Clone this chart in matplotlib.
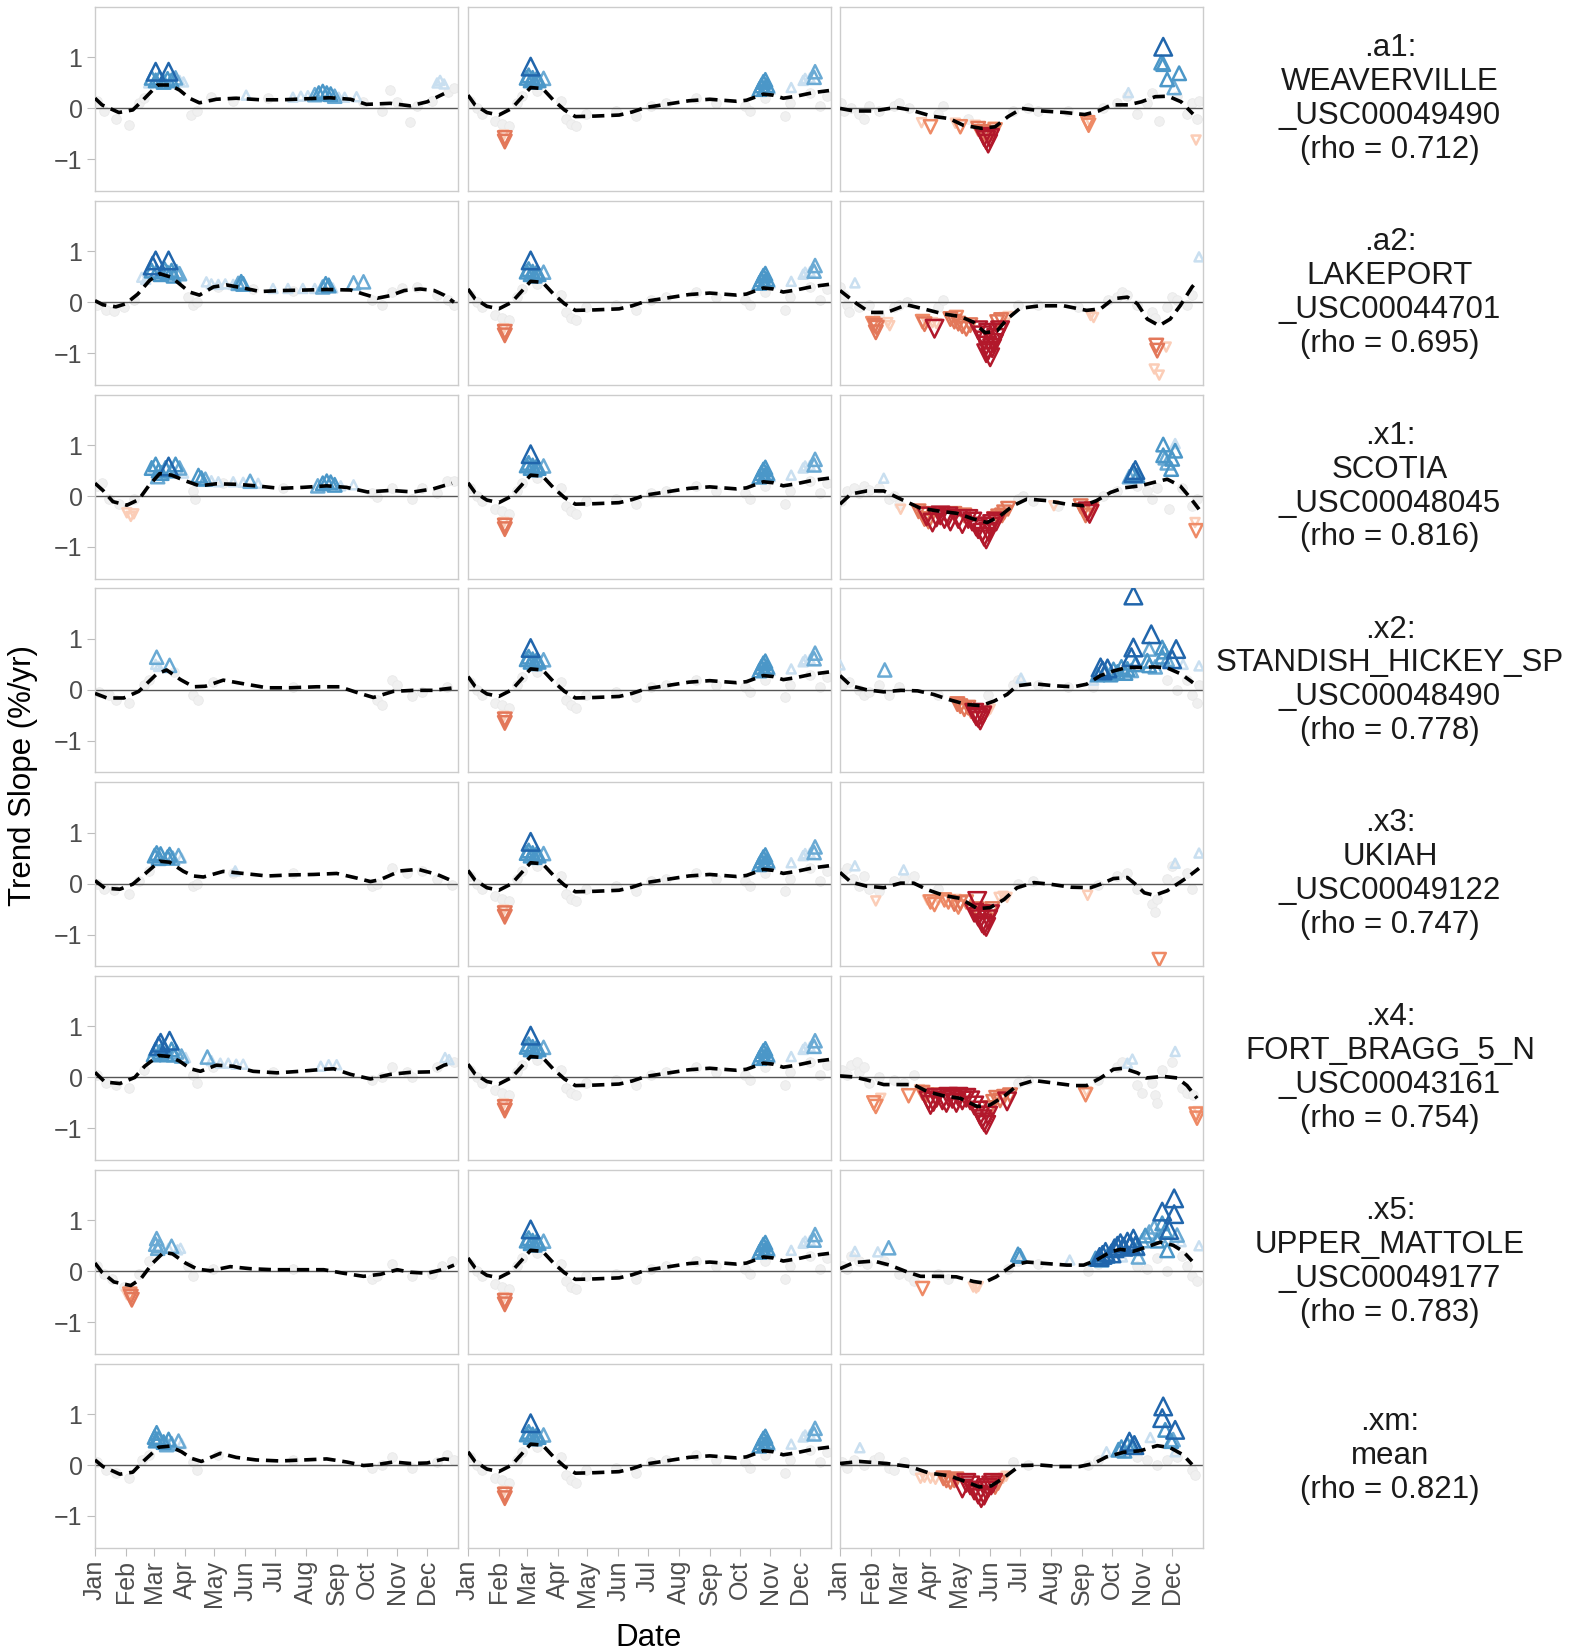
import matplotlib
matplotlib.use("Agg")
import matplotlib.pyplot as plt

plt.rcParams['font.family'] = ['Liberation Sans', 'DejaVu Sans']

MONTH_DAYS = [1, 32, 60, 91, 121, 152, 182, 213, 244, 274, 305, 335]
MONTH_LABELS = ['Jan', 'Feb', 'Mar', 'Apr', 'May', 'Jun', 'Jul', 'Aug', 'Sep', 'Oct', 'Nov', 'Dec']
Y_TICKS = [-1, 0, 1]

STATION_LABELS = [
    '.a1:\nWEAVERVILLE\n_USC00049490\n(rho = 0.712)',
    '.a2:\nLAKEPORT\n_USC00044701\n(rho = 0.695)',
    '.x1:\nSCOTIA\n_USC00048045\n(rho = 0.816)',
    '.x2:\nSTANDISH_HICKEY_SP\n_USC00048490\n(rho = 0.778)',
    '.x3:\nUKIAH\n_USC00049122\n(rho = 0.747)',
    '.x4:\nFORT_BRAGG_5_N\n_USC00043161\n(rho = 0.754)',
    '.x5:\nUPPER_MATTOLE\n_USC00049177\n(rho = 0.783)',
    '.xm:\nmean\n(rho = 0.821)',
]

# ---- column 1: smoothed trend (day, slope) per station ----
TREND_C1 = [
    [(1, .2), (8, .07), (25, -.08), (39, -.03), (49, .16), (64, .46), (76, .46), (86, .36), (96, .2), (106, .11),
     (123, .18), (143, .2), (167, .17), (190, .17), (214, .19), (237, .21), (258, .18), (274, .08), (298, .1),
     (318, .05), (335, .13), (352, .29)],
    [(1, .03), (9, -.05), (22, -.09), (32, -.03), (44, .16), (56, .43), (66, .56), (78, .49), (86, .36), (96, .2),
     (106, .14), (120, .3), (133, .34), (150, .28), (167, .21), (190, .23), (214, .24), (234, .25), (258, .24),
     (271, .16), (285, .08), (298, .13), (312, .23), (328, .26), (342, .23), (352, .14), (362, 0)],
    [(1, .25), (9, .11), (19, -.11), (33, -.18), (45, -.07), (55, .2), (66, .44), (78, .41), (93, .29), (106, .2),
     (123, .24), (143, .23), (163, .2), (187, .15), (210, .17), (234, .2), (254, .17), (275, .08), (298, .11),
     (321, .08), (341, .14), (360, .25)],
    [(1, -.07), (13, -.16), (30, -.16), (45, -.03), (63, .31), (73, .39), (87, .2), (100, .06), (112, .07),
     (130, .19), (150, .12), (174, .04), (197, .04), (224, .06), (247, .06), (264, -.05), (281, -.15),
     (301, -.03), (321, -.01), (341, -.01), (362, .04)],
    [(1, .06), (11, -.09), (26, -.11), (39, -.01), (50, .17), (66, .44), (76, .42), (90, .24), (100, .15),
     (110, .13), (130, .24), (150, .2), (174, .15), (197, .17), (221, .18), (244, .2), (264, .11), (278, .04),
     (288, .08), (308, .25), (326, .28), (345, .18), (357, .08)],
    [(1, .1), (11, -.09), (26, -.12), (41, 0), (51, .22), (65, .43), (76, .41), (86, .32), (97, .17), (107, .12),
     (123, .24), (140, .22), (160, .12), (184, .09), (207, .12), (231, .16), (241, .17), (258, .06), (278, -.03),
     (298, .06), (318, .1), (339, .11), (352, .24), (362, .29)],
    [(1, .16), (8, -.02), (20, -.21), (37, -.28), (47, -.15), (59, .16), (70, .37), (79, .34), (92, .16),
     (104, .04), (117, .01), (137, .09), (157, .05), (180, .03), (204, .03), (231, .03), (251, -.04), (271, -.1),
     (288, -.06), (305, .03), (318, -.02), (335, -.04), (352, .04), (362, .12)],
    [(1, .1), (9, -.03), (26, -.18), (39, -.14), (50, .08), (65, .35), (76, .37), (88, .26), (98, .13), (108, .07),
     (127, .23), (143, .15), (163, .1), (187, .08), (211, .1), (234, .12), (254, .06), (271, -.01), (285, .01),
     (301, .06), (318, .03), (335, .04), (352, .12), (362, .1)],
]

# significant slopes (day, slope, significance class 1..4)
SIG_C1 = [
    [(62, .72, 4), (75, .72, 4), (58, .6, 3), (62, .55, 3), (66, .6, 3), (70, .52, 3), (74, .58, 3), (78, .55, 3),
     (82, .6, 2), (86, .55, 1), (90, .52, 1), (55, .5, 1), (153, .26, 1), (200, .22, 1), (208, .24, 1),
     (215, .25, 1), (222, .27, 2), (226, .3, 3), (230, .33, 3), (234, .3, 3), (238, .28, 3), (242, .24, 2),
     (246, .22, 1), (252, .22, 1), (264, .23, 1), (345, .5, 1), (348, .55, 1), (352, .48, 1)],
    [(62, .82, 4), (75, .82, 4), (59, .72, 4), (58, .62, 3), (63, .6, 3), (67, .55, 3), (71, .65, 3), (74, .58, 3),
     (78, .62, 3), (80, .52, 3), (83, .6, 2), (86, .56, 2), (48, .49, 1), (52, .45, 1), (113, .4, 1), (118, .36, 1),
     (125, .35, 1), (132, .36, 1), (140, .35, 1), (145, .37, 2), (148, .4, 3), (150, .36, 3), (180, .27, 1),
     (195, .27, 1), (210, .27, 1), (222, .27, 1), (230, .3, 2), (233, .36, 3), (236, .33, 3), (240, .28, 1),
     (261, .38, 2), (271, .4, 2)],
    [(58, .55, 3), (62, .62, 3), (65, .5, 3), (68, .45, 3), (72, .55, 3), (75, .58, 4), (78, .5, 3), (82, .62, 3),
     (86, .55, 2), (90, .45, 1), (64, .38, 2), (105, .4, 3), (108, .35, 3), (112, .33, 2), (118, .3, 1),
     (125, .28, 1), (140, .28, 1), (150, .27, 1), (157, .29, 2), (165, .25, 1), (225, .2, 2), (230, .25, 3),
     (234, .29, 3), (238, .27, 3), (242, .22, 3), (248, .2, 1), (261, .22, 1), (33, -.33, 1), (37, -.4, 1),
     (40, -.35, 1)],
    [(63, .64, 2), (62, .5, 1), (65, .46, 1), (76, .48, 2)],
    [(61, .55, 3), (63, .6, 3), (65, .5, 3), (67, .58, 3), (74, .52, 3), (76, .57, 3), (79, .5, 2), (85, .55, 2),
     (88, .5, 1), (142, .25, 1)],
    [(67, .68, 4), (65, .62, 4), (76, .72, 4), (60, .45, 3), (62, .55, 3), (66, .5, 3), (70, .6, 3), (73, .45, 3),
     (78, .55, 3), (80, .45, 3), (83, .5, 2), (88, .42, 2), (92, .39, 1), (114, .4, 2), (118, .33, 1),
     (127, .28, 1), (135, .28, 1), (143, .26, 1), (150, .26, 1), (228, .22, 1), (236, .25, 1), (244, .25, 1),
     (353, .39, 1), (357, .35, 1)],
    [(63, .64, 2), (62, .53, 2), (64, .45, 2), (66, .5, 2), (78, .49, 2), (75, .45, 1), (87, .45, 1), (84, .42, 1),
     (33, -.46, 1), (37, -.5, 3), (38, -.56, 3), (36, -.45, 2)],
    [(61, .55, 3), (63, .63, 3), (65, .52, 3), (62, .48, 3), (70, .45, 3), (75, .5, 3), (73, .4, 2), (78, .42, 2),
     (85, .47, 2), (88, .42, 1), (72, .37, 1)],
]

GRAY_C1 = [
    [(3, .15), (10, -.05), (22, -.2), (35, -.33), (45, .1), (50, .2), (98, -.12), (104, -.05), (118, .22),
     (140, .15), (175, .2), (270, .12), (290, -.05), (298, .36), (305, .12), (318, -.26), (325, .05), (340, .15),
     (356, .33), (362, .4)],
    [(3, -.05), (12, -.15), (20, -.18), (30, -.1), (40, .05), (95, .1), (100, -.05), (104, 0), (125, .3),
     (160, .25), (200, .22), (280, .05), (290, -.05), (300, .2), (310, .28), (325, .3), (345, .15), (356, .05),
     (362, -.05)],
    [(3, .2), (8, .25), (15, -.05), (25, -.15), (40, -.05), (100, .1), (102, -.05), (130, .25), (190, .15),
     (280, .05), (285, -.02), (300, .15), (320, -.05), (330, .15), (345, .05), (355, .3), (362, .3)],
    [(5, -.05), (15, -.1), (22, -.2), (35, -.25), (50, .1), (55, .2), (80, .35), (100, -.1), (105, -.2),
     (120, .15), (200, .05), (285, -.2), (290, -.3), (300, .2), (305, .1), (320, -.12), (330, -.05), (355, .05)],
    [(3, 0), (10, -.1), (20, -.12), (35, -.2), (45, .05), (55, .25), (100, -.05), (104, 0), (140, .2), (200, .2),
     (280, -.05), (285, 0), (300, .3), (315, .2), (330, .25), (345, .1), (360, -.02)],
    [(3, .05), (12, -.1), (22, -.15), (35, -.2), (50, .15), (100, .05), (104, -.1), (120, .2), (180, .1),
     (280, -.05), (290, 0), (300, .2), (315, .1), (320, 0), (345, .2), (362, .3)],
    [(3, .1), (10, -.05), (18, -.15), (30, -.3), (45, -.05), (55, .2), (95, .1), (100, -.1), (120, .05),
     (200, .05), (280, -.15), (285, -.1), (300, .15), (320, -.1), (340, -.05), (350, .1), (360, .2)],
    [(3, .05), (12, -.1), (22, -.15), (35, -.25), (48, .1), (55, .2), (100, .05), (104, -.1), (125, .2),
     (200, .1), (280, -.05), (290, 0), (300, .15), (320, -.05), (345, .05), (355, .2), (362, .1)],
]

# ---- column 2: identical for every station ----
TREND_C2 = [(1, .26), (8, .07), (20, -.08), (32, -.13), (45, 0), (64, .41), (76, .39), (87, .16), (98, -.03),
            (109, -.16), (129, -.15), (153, -.13), (166, -.07), (180, .02), (200, .08), (223, .15), (244, .18),
            (271, .14), (281, .16), (298, .28), (308, .26), (318, .2), (331, .24), (348, .31), (364, .35)]
SIG_C2 = [(64, .82, 4), (60, .6, 3), (62, .65, 3), (64, .55, 3), (66, .6, 3), (68, .52, 3), (70, .58, 3),
          (72, .55, 3), (77, .59, 2), (74, .52, 1), (38, -.65, 3), (38, -.58, 3), (37, -.52, 1), (294, .38, 3),
          (296, .45, 3), (298, .52, 3), (300, .56, 3), (302, .45, 3), (299, .4, 3), (303, .42, 1), (305, .38, 1),
          (326, .41, 1), (338, .55, 1), (340, .59, 1), (350, .72, 2), (349, .61, 2), (345, .6, 1)]
GRAY_C2 = [(3, .15), (10, 0), (15, -.1), (28, -.25), (35, -.3), (42, -.35), (50, .1), (55, .25), (70, .35),
           (95, .15), (100, -.2), (105, -.3), (110, -.35), (120, -.1), (150, -.05), (170, -.15), (185, .05),
           (200, .1), (230, .2), (250, .1), (280, .05), (285, -.05), (300, .2), (320, -.15), (325, .1), (345, .3),
           (355, .05), (362, .25)]

# ---- column 3 ----
TREND_C3 = [
    [(1, 0), (15, -.05), (35, -.05), (57, .02), (72, -.03), (93, -.15), (111, -.2), (125, -.33), (143, -.39),
     (157, -.36), (170, -.16), (184, 0), (204, -.05), (227, -.08), (247, -.12), (261, -.05), (274, .07),
     (291, .07), (304, .13), (318, .23), (331, .24), (344, .13), (356, -.11)],
    [(1, .23), (18, -.03), (31, -.2), (48, -.2), (68, -.05), (85, -.13), (105, -.23), (122, -.28), (135, -.39),
     (147, -.6), (159, -.56), (169, -.33), (182, -.12), (202, -.07), (226, -.07), (249, -.16), (263, -.13),
     (276, .07), (290, .1), (300, -.03), (310, -.33), (322, -.46), (333, -.33), (343, -.07), (355, .3), (360, .41)],
    [(1, -.16), (12, .04), (28, .1), (45, .1), (62, -.06), (82, -.24), (102, -.3), (119, -.34), (135, -.45),
     (149, -.52), (162, -.39), (175, -.19), (189, -.06), (209, -.09), (229, -.16), (246, -.19), (259, -.09),
     (273, .07), (286, .16), (303, .2), (317, .27), (330, .33), (343, .2), (353, -.03), (362, -.26)],
    [(1, .28), (12, .08), (28, 0), (45, -.04), (62, -.01), (79, -.02), (95, -.09), (112, -.2), (129, -.29),
     (143, -.31), (156, -.22), (169, -.09), (179, .08), (196, .12), (216, .08), (236, .06), (249, .11),
     (263, .28), (276, .37), (290, .44), (303, .44), (317, .45), (330, .43), (344, .31), (356, .14)],
    [(1, .22), (12, .03), (28, -.05), (45, -.08), (62, .01), (75, .01), (89, -.12), (105, -.23), (122, -.29),
     (139, -.49), (152, -.47), (166, -.31), (179, -.08), (196, .02), (212, -.01), (233, -.07), (253, -.08),
     (263, -.01), (276, .1), (290, .12), (298, -.01), (307, -.18), (317, -.23), (330, -.14), (340, -.01),
     (350, .12), (362, .3)],
    [(1, .03), (15, .01), (28, -.05), (45, -.14), (62, -.14), (75, -.14), (89, -.28), (105, -.36), (122, -.41),
     (139, -.57), (152, -.54), (166, -.37), (179, -.16), (196, -.06), (216, -.11), (236, -.16), (249, -.16),
     (263, -.01), (276, .16), (286, .18), (300, .09), (309, -.01), (326, .02), (340, -.01), (350, -.16),
     (360, -.41)],
    [(1, .05), (15, .17), (35, .2), (51, .12), (68, -.01), (82, -.1), (102, -.1), (118, -.11), (135, -.2),
     (145, -.23), (158, -.11), (175, .12), (189, .18), (209, .15), (229, .12), (246, .12), (259, .22), (273, .38),
     (283, .43), (296, .39), (310, .48), (323, .57), (336, .51), (346, .39), (355, .2)],
    [(1, .03), (21, .07), (48, .03), (71, -.03), (91, -.16), (111, -.21), (128, -.33), (141, -.43), (153, -.41),
     (165, -.26), (182, -.01), (202, 0), (222, -.03), (242, -.03), (256, .03), (269, .16), (286, .25), (303, .28),
     (320, .38), (333, .34), (346, .2), (355, .01)],
]

SIG_C3 = [
    [(326, 1.21, 4), (326, .87, 3), (324, .9, 3), (330, .57, 3), (342, .69, 3), (337, .41, 2), (291, .31, 1),
     (92, -.36, 2), (83, -.28, 1), (122, -.36, 2), (117, -.29, 1), (137, -.33, 1), (140, -.4, 3), (143, -.46, 3),
     (146, -.5, 3), (150, -.69, 4), (148, -.62, 4), (146, -.56, 4), (152, -.58, 4), (150, -.52, 3),
     (154, -.49, 3), (157, -.42, 2), (155, -.36, 1), (251, -.33, 2), (250, -.28, 2), (252, -.25, 1),
     (359, -.62, 1)],
    [(16, .38, 1), (362, .89, 1), (34, -.42, 2), (36, -.46, 3), (37, -.59, 3), (38, -.5, 3), (51, -.46, 1),
     (49, -.4, 1), (84, -.38, 2), (86, -.43, 3), (88, -.4, 1), (96, -.52, 4), (94, -.4, 1), (98, -.42, 1),
     (112, -.33, 3), (116, -.38, 3), (120, -.42, 3), (124, -.47, 3), (128, -.52, 3), (132, -.45, 3),
     (118, -.3, 2), (140, -.55, 4), (144, -.65, 4), (146, -.75, 4), (148, -.85, 4), (150, -.95, 4),
     (152, -1.08, 4), (148, -1.0, 4), (154, -.9, 4), (156, -.8, 4), (158, -.7, 4), (160, -.6, 4), (162, -.55, 4),
     (150, -.6, 4), (159, -.39, 3), (163, -.35, 3), (166, -.3, 1), (170, -.28, 1), (253, -.26, 1),
     (256, -.3, 1), (320, -.95, 3), (319, -.85, 3), (329, -.88, 1), (317, -1.31, 1), (322, -1.43, 1)],
    [(45, .35, 1), (298, .51, 4), (296, .45, 4), (295, .43, 3), (292, .38, 2), (300, .4, 3), (326, 1.01, 3),
     (338, 1.03, 1), (338, .89, 3), (326, .8, 3), (328, .75, 2), (335, .73, 3), (334, .53, 3), (330, .65, 2),
     (62, -.26, 1), (80, -.3, 3), (84, -.35, 3), (86, -.45, 3), (88, -.4, 4), (90, -.5, 3), (94, -.52, 4),
     (98, -.42, 4), (102, -.38, 4), (106, -.45, 4), (110, -.4, 4), (112, -.5, 4), (116, -.35, 3),
     (120, -.45, 4), (124, -.55, 4), (126, -.38, 3), (130, -.45, 4), (134, -.5, 4), (138, -.6, 4),
     (140, -.65, 4), (144, -.72, 4), (146, -.8, 4), (148, -.85, 4), (150, -.7, 4), (152, -.6, 4),
     (154, -.55, 4), (156, -.45, 3), (158, -.5, 4), (160, -.4, 3), (164, -.38, 3), (166, -.32, 3),
     (170, -.25, 3), (216, -.19, 1), (243, -.2, 3), (246, -.28, 3), (248, -.38, 3), (250, -.3, 4),
     (252, -.35, 4), (254, -.25, 2), (359, -.68, 2), (358, -.52, 1)],
    [(1, .49, 1), (46, .39, 2), (183, .23, 1), (256, .19, 1), (260, .3, 3), (263, .44, 4), (265, .38, 4),
     (268, .35, 3), (270, .42, 4), (273, .3, 3), (276, .4, 3), (280, .35, 3), (284, .45, 3), (288, .33, 3),
     (290, .41, 3), (294, .38, 2), (296, 1.85, 4), (296, .83, 4), (294, .64, 4), (298, .5, 3), (314, 1.09, 4),
     (312, .8, 2), (325, .83, 3), (327, .75, 3), (339, .8, 4), (335, .6, 4), (310, .57, 3), (312, .48, 3),
     (325, .65, 3), (330, .6, 2), (346, .5, 1), (362, .47, 1), (318, .45, 2), (119, -.28, 3), (122, -.32, 3),
     (126, -.38, 3), (130, -.35, 3), (133, -.42, 3), (136, -.45, 4), (138, -.52, 4), (140, -.55, 4),
     (142, -.6, 4), (144, -.5, 4), (146, -.48, 3), (150, -.42, 1), (152, -.38, 1)],
    [(16, .35, 1), (65, .27, 1), (338, .4, 1), (362, .6, 1), (37, -.34, 1), (89, -.32, 1), (92, -.36, 2),
     (96, -.41, 2), (100, -.32, 1), (106, -.32, 2), (110, -.36, 2), (116, -.4, 3), (120, -.46, 2),
     (122, -.38, 3), (118, -.31, 1), (128, -.36, 2), (136, -.57, 4), (138, -.5, 3), (139, -.34, 4),
     (140, -.65, 4), (142, -.7, 4), (144, -.78, 4), (146, -.82, 4), (148, -.85, 4), (150, -.7, 4),
     (152, -.6, 4), (144, -.55, 3), (154, -.5, 3), (161, -.27, 1), (165, -.25, 1), (169, -.27, 1),
     (250, -.23, 1), (322, -1.49, 2)],
    [(295, .36, 1), (290, .28, 1), (338, .51, 1), (37, -.57, 2), (35, -.5, 2), (42, -.41, 1), (70, -.36, 2),
     (81, -.24, 1), (84, -.3, 3), (88, -.35, 3), (90, -.45, 4), (92, -.54, 4), (95, -.48, 4), (98, -.4, 4),
     (100, -.35, 3), (104, -.45, 4), (108, -.5, 4), (110, -.38, 4), (114, -.42, 4), (118, -.5, 4),
     (120, -.38, 4), (124, -.45, 4), (128, -.4, 4), (132, -.45, 4), (136, -.55, 4), (140, -.65, 4),
     (142, -.75, 4), (144, -.82, 4), (146, -.88, 4), (148, -.93, 4), (150, -.75, 4), (152, -.6, 3),
     (155, -.48, 3), (158, -.4, 3), (162, -.45, 3), (166, -.38, 3), (169, -.47, 4), (172, -.35, 3),
     (249, -.28, 1), (248, -.34, 2), (360, -.8, 2), (361, -.67, 1), (359, -.72, 2)],
    [(16, .39, 1), (39, .38, 1), (50, .46, 2), (180, .33, 3), (182, .3, 3), (184, .28, 1), (232, .22, 1),
     (258, .25, 3), (262, .28, 4), (265, .32, 4), (268, .38, 4), (264, .22, 2), (270, .3, 3), (274, .35, 4),
     (277, .45, 4), (280, .5, 4), (283, .55, 4), (286, .48, 4), (290, .58, 4), (293, .52, 4), (296, .64, 4),
     (298, .5, 4), (300, .45, 3), (301, .28, 2), (285, .28, 1), (305, .6, 2), (308, .7, 3), (312, .77, 2),
     (317, .87, 2), (320, .6, 3), (322, .7, 2), (325, 1.17, 4), (325, .94, 3), (328, .8, 3), (332, .81, 4),
     (330, .41, 3), (337, 1.43, 4), (337, 1.12, 4), (340, .71, 2), (344, .58, 1), (362, .5, 1),
     (84, -.34, 2), (135, -.31, 1), (138, -.33, 1), (140, -.3, 1)],
    [(21, .34, 1), (269, .26, 1), (281, .3, 3), (284, .35, 3), (287, .28, 3), (290, .4, 3), (292, .46, 4),
     (294, .36, 3), (297, .43, 3), (297, .39, 4), (313, .54, 1), (326, 1.15, 4), (325, .92, 4), (328, .69, 3),
     (338, .69, 4), (334, .47, 3), (336, .5, 2), (338, .26, 1), (82, -.26, 1), (86, -.24, 1), (92, -.26, 1),
     (97, -.28, 1), (105, -.26, 3), (108, -.3, 3), (112, -.33, 3), (116, -.3, 3), (118, -.28, 3),
     (124, -.46, 4), (128, -.35, 4), (132, -.4, 4), (136, -.5, 4), (140, -.58, 4), (143, -.65, 4),
     (146, -.6, 4), (148, -.5, 4), (150, -.45, 4), (153, -.4, 4), (155, -.35, 4), (157, -.43, 3),
     (160, -.35, 3), (165, -.26, 1), (168, -.22, 1)],
]

GRAY_C3 = [
    [(2, .1), (5, -.05), (12, 0), (20, -.1), (25, -.2), (30, .05), (40, -.05), (55, .05), (60, .1), (70, 0),
     (100, -.1), (105, .05), (130, -.2), (175, -.05), (190, 0), (200, -.05), (230, -.05), (265, 0), (280, .1),
     (290, .25), (300, -.1), (310, .1), (315, .3), (322, -.25), (340, .25), (350, -.1), (355, .1), (360, -.2),
     (362, .15)],
    [(1, .3), (5, .15), (8, -.05), (10, -.2), (20, -.1), (30, -.05), (40, -.25), (55, -.1), (60, -.05), (68, 0),
     (100, -.1), (105, .05), (180, -.05), (200, -.05), (240, -.1), (270, .05), (280, .1), (285, .2), (290, .15),
     (300, -.05), (315, -.2), (318, -.3), (330, -.1), (335, .1), (340, .05), (350, -.05), (355, .15)],
    [(2, -.1), (8, .1), (15, .15), (20, .05), (25, .2), (30, .12), (40, .15), (50, -.05), (55, 0), (60, -.15),
     (180, -.05), (185, 0), (195, -.1), (220, -.2), (265, 0), (280, .1), (300, .2), (310, .1), (315, -.05),
     (320, .15), (332, -.25), (345, .15), (355, -.2), (360, -.05)],
    [(3, .1), (10, .15), (20, 0), (25, -.1), (30, -.05), (40, .1), (50, -.1), (60, .05), (100, -.1), (150, -.1),
     (175, .1), (180, .2), (200, .1), (230, .05), (255, .05), (270, .3), (330, .2), (340, 0), (350, .2),
     (355, -.1), (360, -.25), (362, .1)],
    [(3, .2), (8, .3), (14, .1), (20, -.05), (25, .15), (30, -.1), (40, -.15), (55, .05), (65, .1), (75, .15),
     (100, -.1), (180, 0), (195, .05), (260, -.02), (280, .15), (290, .2), (300, -.1), (315, -.4), (318, -.55),
     (320, -.3), (330, .1), (335, .35), (340, .05), (350, .2), (355, -.1)],
    [(3, .15), (8, .05), (12, .25), (18, .3), (20, .1), (25, .2), (30, -.1), (40, 0), (55, -.05), (65, -.1),
     (75, .05), (180, -.1), (190, -.05), (260, -.05), (280, .2), (285, .3), (300, -.15), (305, -.3), (315, -.1),
     (318, -.35), (320, -.5), (325, .15), (335, .3), (345, -.2), (350, -.3), (356, -.35)],
    [(3, .1), (8, .05), (12, .3), (20, .2), (28, .15), (45, .2), (60, -.05), (70, -.1), (75, -.2), (100, -.05),
     (110, -.15), (170, .05), (180, .2), (200, .15), (250, 0), (260, .15), (300, .1), (310, .05), (320, .25),
     (330, 0), (345, .3), (350, .1), (355, -.1), (360, -.2)],
    [(3, .05), (8, -.05), (15, .1), (25, 0), (35, .1), (40, .15), (50, -.05), (55, -.1), (65, .05), (75, -.1),
     (175, .05), (190, 0), (250, 0), (260, .1), (300, .15), (310, .1), (320, 0), (330, .1), (340, .15),
     (355, -.1), (358, -.2)],
]

BLUES = {1: '#c9dff0', 2: '#6aaad4', 3: '#4b97c8', 4: '#2166ac'}
REDS = {1: '#fbcdb7', 2: '#ee8a66', 3: '#e3785a', 4: '#b2182b'}
SIZES = {1: 42, 2: 90, 3: 95, 4: 160}

W, H = 1583, 1652
COL_LEFT = [95, 468, 840]
PANEL_W, PANEL_H = 363, 184
ROW_STEP = 193.8


def draw_panel(ax, trend, sig, gray, bottom, first_col):
    ax.scatter([d for d, v in gray], [v for d, v in gray], s=48, facecolor='#f0f0f0',
               edgecolor='#e9e9e9', linewidth=0.6, zorder=1)
    ax.axhline(0, color='#555555', lw=1.0, zorder=2)
    for lvl in (1, 2, 3, 4):
        up = [(d, v) for d, v, l in sig if l == lvl and v > 0]
        dn = [(d, v) for d, v, l in sig if l == lvl and v < 0]
        if up:
            ax.scatter([d for d, v in up], [v for d, v in up], marker='^', s=SIZES[lvl],
                       facecolor='none', edgecolor=BLUES[lvl], linewidth=1.8, zorder=3 + lvl)
        if dn:
            ax.scatter([d for d, v in dn], [v for d, v in dn], marker='v', s=SIZES[lvl],
                       facecolor='none', edgecolor=REDS[lvl], linewidth=1.8, zorder=3 + lvl)
    ax.plot([d for d, v in trend], [v for d, v in trend], color='black', lw=2.6,
            linestyle=(0, (3.4, 1.9)), zorder=10)

    ax.set_xlim(1, 366)
    ax.set_ylim(-1.62, 1.99)
    for sp in ax.spines.values():
        sp.set_color('#cccccc')
        sp.set_linewidth(1.0)
    ax.tick_params(length=6, color='#bdbdbd', labelcolor='#4d4d4d', labelsize=18, pad=3)
    if bottom:
        ax.set_xticks(MONTH_DAYS)
        ax.set_xticklabels(MONTH_LABELS, rotation=90)
    else:
        ax.set_xticks([])
    if first_col:
        ax.set_yticks(Y_TICKS)
        ax.set_yticklabels(['\u22121', '0', '1'])
    else:
        ax.set_yticks([])


def plot():
    fig = plt.figure(figsize=(W / 100, H / 100), dpi=100)
    n_rows = len(STATION_LABELS)
    for r in range(n_rows):
        top = 7 + ROW_STEP * r
        panels = [
            (TREND_C1[r], SIG_C1[r], GRAY_C1[r]),
            (TREND_C2, SIG_C2, GRAY_C2),
            (TREND_C3[r], SIG_C3[r], GRAY_C3[r]),
        ]
        for c, (trend, sig, gray) in enumerate(panels):
            ax = fig.add_axes([COL_LEFT[c] / W, 1 - (top + PANEL_H) / H, PANEL_W / W, PANEL_H / H])
            draw_panel(ax, trend, sig, gray, r == n_rows - 1, c == 0)
        fig.text(1390 / W, 1 - (top + PANEL_H / 2) / H, STATION_LABELS[r], ha='center', va='center',
                 fontsize=22.5, linespacing=1.17, color='#1a1a1a')

    fig.text(23 / W, 1 - 776 / H, 'Trend Slope (%/yr)', rotation=90, ha='center', va='center', fontsize=22.5)
    fig.text(649 / W, 1 - 1638 / H, 'Date', ha='center', va='center', fontsize=22.5)
    fig.savefig('out.png', dpi=100)


if __name__ == '__main__':
    plot()
